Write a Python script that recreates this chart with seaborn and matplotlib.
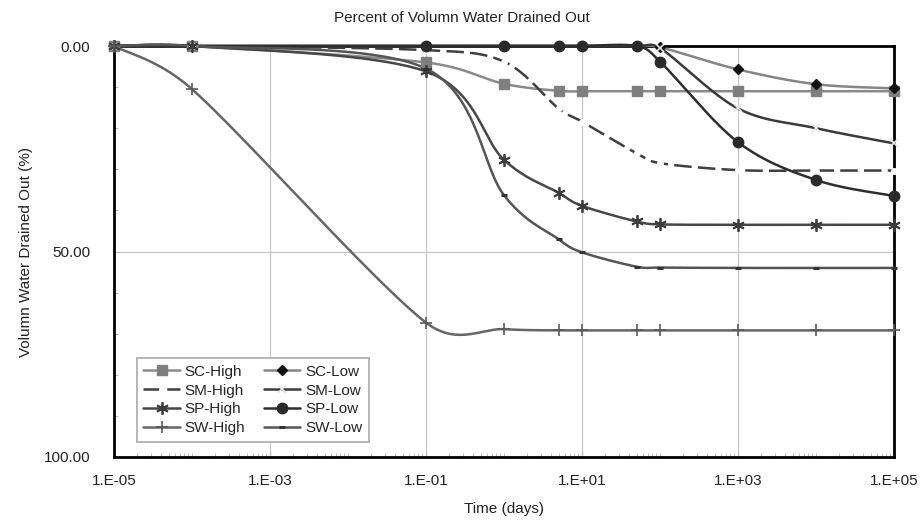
import numpy as np
import pandas as pd
import matplotlib
matplotlib.use("Agg")
import matplotlib.pyplot as plt
import seaborn as sns
from matplotlib.lines import Line2D
from matplotlib.ticker import FixedLocator, LogLocator, NullFormatter

# ---------------- data ----------------
times = [1e-5, 1e-4, 0.1, 1, 5, 10, 50, 100, 1000, 1e4, 1e5]

sc_high = [0, 0, 4.0, 9.2, 10.9, 11.0, 11.0, 11.0, 11.0, 11.0, 11.0]
sc_low = [0, 0, 0, 0, 0, 0, 0, 0.3, 5.7, 9.3, 10.3]
sm_high = [0, 0, 1.0, 3.8, 15.2, 18.4, 26.1, 28.5, 30.2, 30.3, 30.3]
sm_low = [0, 0, 0, 0, 0, 0, 0, 0.5, 15.2, 20.0, 23.7]
sp_high = [0, 0, 6.2, 27.7, 35.7, 38.9, 42.7, 43.4, 43.5, 43.5, 43.5]
sp_low = [0, 0, 0, 0, 0, 0, 0, 3.8, 23.4, 32.6, 36.5]
sw_high = [0, 10.5, 67.3, 68.9, 69.2, 69.2, 69.2, 69.2, 69.2, 69.2, 69.2]
sw_low = [0, 0, 5.5, 36.3, 47.0, 50.2, 53.7, 53.9, 54.0, 54.0, 54.0]

series_names = ["SC-High", "SC-Low", "SM-High", "SM-Low",
                "SP-High", "SP-Low", "SW-High", "SW-Low"]
series_values = [sc_high, sc_low, sm_high, sm_low,
                 sp_high, sp_low, sw_high, sw_low]

x_tick_vals = [1e-5, 1e-3, 1e-1, 1e1, 1e3, 1e5]
x_tick_labels = ["1.E-05", "1.E-03", "1.E-01", "1.E+01", "1.E+03", "1.E+05"]
y_tick_vals = [0, 50, 100]
y_tick_labels = ["0.00", "50.00", "100.00"]

# ---------------- styles ----------------
styles = {
    "SC-High": dict(color="#8a8a8a", ls="-", marker="s", mfc="#7f7f7f", mec="#7f7f7f", ms=7, mew=1, skip=0),
    "SC-Low": dict(color="#858585", ls="-", marker="D", mfc="#111111", mec="#111111", ms=5, mew=1, skip=2),
    "SM-High": dict(color="#3f3f3f", ls=(0, (7, 2.5)), marker="o", mfc="white", mec="white", ms=4, mew=1, skip=0),
    "SM-Low": dict(color="#3a3a3a", ls="-", marker="x", mfc="#eeeeee", mec="#e6e6e6", ms=6, mew=1.2, skip=2),
    "SP-High": dict(color="#474747", ls="-", marker=(6, 2, 0), mfc="#3c3c3c", mec="#3c3c3c", ms=9, mew=1.3, skip=0),
    "SP-Low": dict(color="#2e2e2e", ls="-", marker="o", mfc="#2a2a2a", mec="#2a2a2a", ms=7.5, mew=1, skip=2),
    "SW-High": dict(color="#666666", ls="-", marker="+", mfc="#5a5a5a", mec="#5a5a5a", ms=9, mew=1.2, skip=0),
    "SW-Low": dict(color="#555555", ls="-", marker="_", mfc="#333333", mec="#333333", ms=5, mew=2.2, skip=2),
}

sns.set_theme(style="white")
plt.rcParams["font.family"] = ["Liberation Sans Narrow", "Liberation Sans", "DejaVu Sans"]

W, H = 923, 525
fig = plt.figure(figsize=(W / 100, H / 100), dpi=100)
ax = fig.add_axes([114 / W, 1 - 457 / H, (894 - 114) / W, (457 - 46) / H])
ax.set_xscale("log")
ax.set_xlim(1e-5, 1e5)
ax.set_ylim(100, 0)


def smooth_curve(xs, ys, n=40):
    """Excel-like Bezier smoothing computed in display coordinates."""
    pts = ax.transData.transform(np.column_stack([xs, ys]))
    out = [pts[0]]
    m = len(pts)
    for i in range(m - 1):
        p0 = pts[i - 1] if i > 0 else pts[i]
        p1 = pts[i]
        p2 = pts[i + 1]
        p3 = pts[i + 2] if i + 2 < m else pts[i + 1]
        d12 = np.hypot(*(p2 - p1))
        d02 = np.hypot(*(p2 - p0))
        d13 = np.hypot(*(p3 - p1))
        f0 = 1 / 6
        f1 = 1 / 6
        if d02 > 0 and d02 / 6 > d12 / 2:
            f0 = d12 / 2 / d02
        if d13 > 0 and d13 / 6 > d12 / 2:
            f1 = d12 / 2 / d13
        b1 = p1 + (p2 - p0) * f0
        b2 = p2 - (p3 - p1) * f1
        t = np.linspace(0, 1, n)[1:, None]
        seg = ((1 - t) ** 3) * p1 + 3 * ((1 - t) ** 2) * t * b1 + 3 * (1 - t) * t ** 2 * b2 + t ** 3 * p2
        out.extend(seg)
    out = np.array(out)
    data = ax.transData.inverted().transform(out)
    return data[:, 0], data[:, 1]


handles = {}
for k, (name, vals) in enumerate(zip(series_names, series_values)):
    st = styles[name]
    sx, sy = smooth_curve(np.array(times), np.array(vals, dtype=float))
    df = pd.DataFrame({"x": sx, "y": sy})
    sns.lineplot(data=df, x="x", y="y", sort=False, estimator=None, ax=ax,
                 color=st["color"], linewidth=1.8, linestyle=st["ls"],
                 zorder=3 + k * 0.1, clip_on=False)
    ax.plot(times[st["skip"]:], vals[st["skip"]:], linestyle="none", marker=st["marker"],
            ms=st["ms"], mfc=st["mfc"], mec=st["mec"], mew=st["mew"],
            zorder=4 + k * 0.1, clip_on=False)
    handles[name] = Line2D([], [], color=st["color"], lw=1.8, ls=st["ls"], marker=st["marker"],
                           ms=st["ms"], mfc=st["mfc"], mec=st["mec"], mew=st["mew"])

# ---------------- axes styling ----------------
ax.xaxis.set_major_locator(FixedLocator(x_tick_vals))
ax.set_xticklabels(x_tick_labels)
ax.xaxis.set_minor_locator(LogLocator(base=10, subs=np.arange(1, 10), numticks=100))
ax.xaxis.set_minor_formatter(NullFormatter())
ax.set_yticks(y_tick_vals)
ax.set_yticklabels(y_tick_labels)
ax.yaxis.set_minor_locator(FixedLocator(np.arange(10, 100, 10)))

ax.tick_params(axis="both", which="major", direction="in", length=4, width=0.8,
               colors="#bbbbbb", labelcolor="#222222", labelsize=11)
ax.tick_params(axis="x", which="major", pad=12)
ax.tick_params(axis="y", which="major", pad=17)
ax.tick_params(axis="both", which="minor", direction="in", length=3, width=0.7, colors="#bbbbbb")
ax.tick_params(bottom=True, left=True, which="both")

ax.grid(True, which="major", color="#c8c8c8", linewidth=0.9)
ax.set_axisbelow(True)
for sp in ax.spines.values():
    sp.set_color("black")
    sp.set_linewidth(2)
    sp.set_zorder(2.5)

fig.text(0.5, 1 - 18 / H, "Percent of Volumn Water Drained Out", fontsize=11,
         ha="center", va="center", color="#222222")
ax.set_xlabel("Time (days)", fontsize=11, labelpad=10, color="#222222")
ax.set_ylabel("Volumn Water Drained Out (%)", fontsize=11, labelpad=8, color="#222222")

order = ["SC-High", "SM-High", "SP-High", "SW-High", "SC-Low", "SM-Low", "SP-Low", "SW-Low"]
leg = ax.legend([handles[n] for n in order], order, ncol=2, loc="lower left",
                bbox_to_anchor=(0.029, 0.036), borderaxespad=0, fontsize=11, frameon=True,
                fancybox=False, edgecolor="#aaaaaa", framealpha=1, handlelength=2.4,
                handletextpad=0.3, columnspacing=1.2, labelspacing=0.32, borderpad=0.45)
leg.get_frame().set_linewidth(1.2)
leg.set_zorder(10)

fig.savefig("out.png", dpi=100)
